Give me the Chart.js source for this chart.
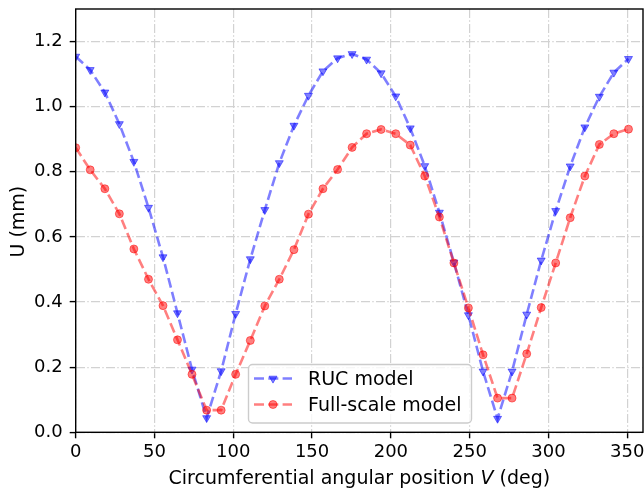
<!DOCTYPE html>
<html>
<head>
<meta charset="utf-8">
<script src="https://cdn.jsdelivr.net/npm/chart.js@4.4.1/dist/chart.umd.min.js"></script>
<style>
  body { margin: 0; background: #fff; }
  #myChart { display: block; }
</style>
</head>
<body>
<canvas id="myChart" width="644" height="492" style="width:644px;height:492px"></canvas>
<script>
// circumferential position (deg)
const angles = [0, 9.2, 18.5, 27.7, 36.9, 46.2, 55.4, 64.6, 73.8, 83.1,
  92.3, 101.5, 110.8, 120.0, 129.2, 138.5, 147.7, 156.9, 166.2,
  175.4, 184.6, 193.8, 203.1, 212.3, 221.5, 230.8, 240.0, 249.2,
  258.5, 267.7, 276.9, 286.2, 295.4, 304.6, 313.8, 323.1, 332.3, 341.5, 350.8];

// U (mm)
const rucModel = [1.154, 1.113, 1.044, 0.947, 0.831, 0.690, 0.538, 0.366, 0.193, 0.044,
  0.188, 0.364, 0.532, 0.683, 0.827, 0.942, 1.034, 1.109, 1.149,
  1.162, 1.145, 1.103, 1.032, 0.934, 0.818, 0.675, 0.522, 0.360,
  0.187, 0.042, 0.187, 0.362, 0.528, 0.680, 0.817, 0.937, 1.031, 1.105, 1.147];

const fullScaleModel = [0.874, 0.806, 0.748, 0.671, 0.563, 0.470, 0.389, 0.284, 0.178, 0.068,
  0.068, 0.178, 0.282, 0.388, 0.470, 0.561, 0.670, 0.748, 0.807,
  0.875, 0.917, 0.930, 0.917, 0.882, 0.787, 0.661, 0.520, 0.382,
  0.238, 0.105, 0.105, 0.241, 0.383, 0.520, 0.659, 0.787, 0.884, 0.917, 0.931];

const seriesNames = ['RUC model', 'Full-scale model'];
const xTitle = ['Circumferential angular position ', 'V', ' (deg)'];
const yTitle = 'U (mm)';

const FONT = 'DejaVu Sans';
const blue = 'rgba(0, 0, 255, 0.5)';
const red = 'rgba(255, 0, 0, 0.5)';
const lineDash = [10, 4.3];

function toPoints(ys) {
  return ys.map((y, i) => ({ x: angles[i], y: y }));
}

function marker(ctx, style, x, y, color) {
  ctx.save();
  ctx.setLineDash([]);
  ctx.fillStyle = color;
  ctx.strokeStyle = color;
  ctx.lineWidth = 1;
  ctx.beginPath();
  if (style === 'triangle') {
    const r = 4.6;
    ctx.moveTo(x, y + r);
    ctx.lineTo(x - r * 0.866, y - r / 2);
    ctx.lineTo(x + r * 0.866, y - r / 2);
    ctx.closePath();
  } else {
    ctx.arc(x, y, 4, 0, Math.PI * 2);
  }
  ctx.fill();
  ctx.stroke();
  ctx.restore();
}

const decorations = {
  id: 'decorations',
  afterDraw(chart) {
    const ctx = chart.ctx;
    const a = chart.chartArea;

    // axes frame
    ctx.save();
    ctx.strokeStyle = '#000';
    ctx.lineWidth = 1.4;
    ctx.strokeRect(a.left, a.top, a.right - a.left, a.bottom - a.top);
    ctx.restore();

    // axis titles
    ctx.save();
    ctx.fillStyle = '#000';
    ctx.textBaseline = 'alphabetic';
    ctx.font = '19px "' + FONT + '"';
    const w0 = ctx.measureText(xTitle[0]).width;
    const w2 = ctx.measureText(xTitle[2]).width;
    ctx.font = 'italic 19px "' + FONT + '"';
    const w1 = ctx.measureText(xTitle[1]).width;
    let x = (a.left + a.right) / 2 - (w0 + w1 + w2) / 2;
    ctx.font = '19px "' + FONT + '"';
    ctx.fillText(xTitle[0], x, 483.5);
    ctx.font = 'italic 19px "' + FONT + '"';
    ctx.fillText(xTitle[1], x + w0, 483.5);
    ctx.font = '19px "' + FONT + '"';
    ctx.fillText(xTitle[2], x + w0 + w1, 483.5);

    ctx.translate(24, (a.top + a.bottom) / 2 + 1);
    ctx.rotate(-Math.PI / 2);
    ctx.textAlign = 'center';
    ctx.fillText(yTitle, 0, 0);
    ctx.restore();

    // legend
    ctx.save();
    const bx = 248.5, by = 364.5, bw = 223, bh = 58.5, rr = 4;
    ctx.beginPath();
    ctx.moveTo(bx + rr, by);
    ctx.arcTo(bx + bw, by, bx + bw, by + bh, rr);
    ctx.arcTo(bx + bw, by + bh, bx, by + bh, rr);
    ctx.arcTo(bx, by + bh, bx, by, rr);
    ctx.arcTo(bx, by, bx + bw, by, rr);
    ctx.closePath();
    ctx.fillStyle = 'rgba(255,255,255,0.8)';
    ctx.fill();
    ctx.strokeStyle = '#cccccc';
    ctx.lineWidth = 1.4;
    ctx.stroke();

    const rows = [
      { y: 378.5, base: 385, color: blue, style: 'triangle' },
      { y: 404.5, base: 411.2, color: red, style: 'circle' }
    ];
    rows.forEach((row, i) => {
      ctx.save();
      ctx.strokeStyle = row.color;
      ctx.lineWidth = 2.6;
      ctx.setLineDash(lineDash);
      ctx.beginPath();
      ctx.moveTo(254, row.y);
      ctx.lineTo(292, row.y);
      ctx.stroke();
      ctx.restore();
      marker(ctx, row.style, 273, row.y, row.color);
      ctx.fillStyle = '#000';
      ctx.font = '19px "' + FONT + '"';
      ctx.textAlign = 'left';
      ctx.textBaseline = 'alphabetic';
      ctx.fillText(seriesNames[i], 308, row.base);
    });
    ctx.restore();
  }
};

const ctx = document.getElementById('myChart').getContext('2d');

const gridCommon = {
  color: '#d2d2d2',
  lineWidth: 1.2,
  tickLength: 6,
  tickColor: '#000',
  tickWidth: 1.4
};

const myChart = new Chart(ctx, {
  type: 'line',
  data: {
    datasets: [{
      label: seriesNames[0],
      data: toPoints(rucModel),
      borderColor: blue,
      backgroundColor: blue,
      borderWidth: 2.6,
      borderDash: lineDash,
      tension: 0,
      fill: false,
      pointStyle: 'triangle',
      pointRotation: 180,
      pointRadius: 4.6,
      pointBorderWidth: 1,
      pointBackgroundColor: blue,
      pointBorderColor: blue,
      order: 2
    }, {
      label: seriesNames[1],
      data: toPoints(fullScaleModel),
      borderColor: red,
      backgroundColor: red,
      borderWidth: 2.6,
      borderDash: lineDash,
      tension: 0,
      fill: false,
      pointStyle: 'circle',
      pointRadius: 4,
      pointBorderWidth: 1,
      pointBackgroundColor: red,
      pointBorderColor: red,
      order: 1
    }]
  },
  options: {
    responsive: false,
    animation: false,
    events: [],
    layout: { autoPadding: false, padding: { top: 9, right: 1, left: 0, bottom: 0 } },
    plugins: {
      legend: { display: false },
      tooltip: { enabled: false }
    },
    scales: {
      x: {
        type: 'linear',
        min: 0,
        max: 360,
        ticks: {
          stepSize: 50,
          includeBounds: false,
          maxRotation: 0,
          padding: 3,
          color: '#000',
          font: { family: FONT, size: 18 }
        },
        grid: gridCommon,
        border: { display: false, dash: [9, 2.3, 1.4, 2.3] },
        afterFit: function(s) { s.height = 59.7; s.paddingLeft = 0; s.paddingRight = 0; }
      },
      y: {
        type: 'linear',
        min: 0,
        max: 1.3,
        ticks: {
          stepSize: 0.2,
          includeBounds: false,
          padding: 7,
          color: '#000',
          font: { family: FONT, size: 18 },
          callback: v => v.toFixed(1)
        },
        grid: gridCommon,
        border: { display: false, dash: [9, 2.3, 1.4, 2.3] },
        afterFit: function(s) { s.width = 75.7; s.paddingTop = 0; s.paddingBottom = 0; }
      }
    }
  },
  plugins: [decorations]
});
</script>
</body>
</html>
